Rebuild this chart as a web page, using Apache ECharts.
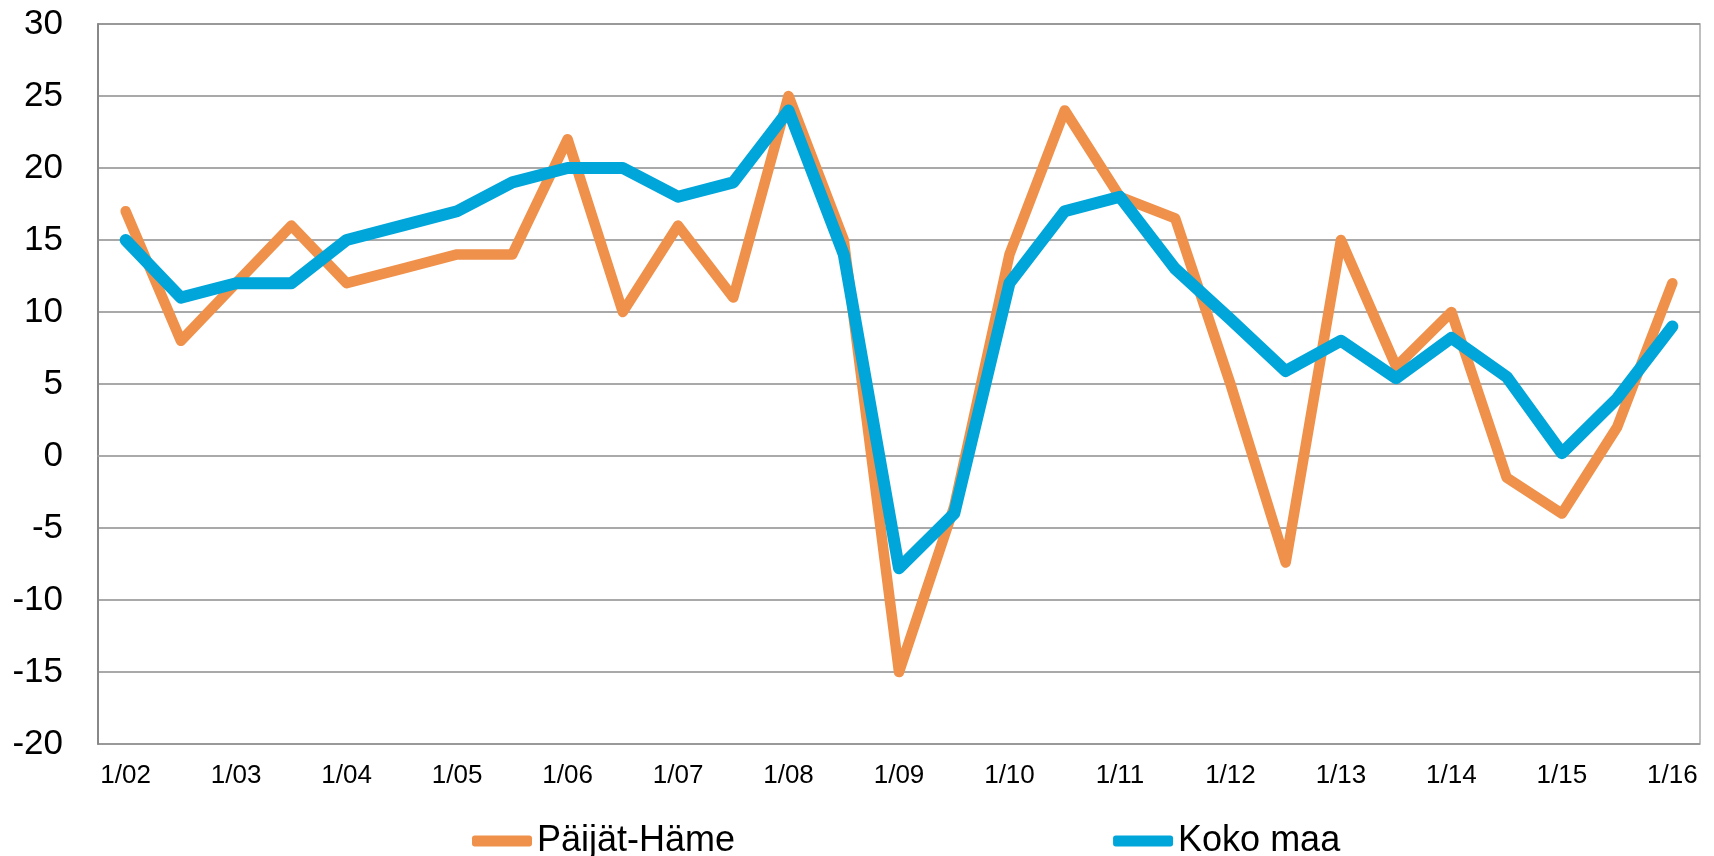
<!DOCTYPE html>
<html>
<head>
<meta charset="utf-8">
<script src="https://cdn.jsdelivr.net/npm/echarts@6/dist/echarts.min.js"></script>
<style>
  html, body { margin: 0; padding: 0; background: #fff; }
  #chart { width: 1714px; height: 856px; }
</style>
</head>
<body>
<div id="chart"></div>
<script>
// puolivuosittaiset havainnot 1/02 ... 1/16
const categories = [
  '1/02', '7/02', '1/03', '7/03', '1/04', '7/04', '1/05', '7/05',
  '1/06', '7/06', '1/07', '7/07', '1/08', '7/08', '1/09', '7/09',
  '1/10', '7/10', '1/11', '7/11', '1/12', '7/12', '1/13', '7/13',
  '1/14', '7/14', '1/15', '7/15', '1/16'
]
const paijatHame = [
  17, 8, 12, 16, 12, 13, 14, 14,
  22, 10, 16, 11, 25, 15, -15, -3.5,
  14, 24, 18, 16.5, 5, -7.4, 15, 6.2,
  10, -1.5, -4, 2, 12
]
const kokoMaa = [
  15, 11, 12, 12, 15, 16, 17, 19,
  20, 20, 18, 19, 24, 14, -7.8, -4,
  12, 17, 18, 13, 9.5, 5.9, 8, 5.4,
  8.2, 5.5, 0.2, 4, 9
]
const yTicks = { min: -20, max: 30, step: 5 }

const font = "'Liberation Sans', Arial, sans-serif"
const chart = echarts.init(document.getElementById('chart'))

chart.setOption({
  animation: false,
  backgroundColor: '#ffffff',
  grid: {
    left: 98,
    right: 14,
    top: 24,
    bottom: 112,
    show: true,
    borderColor: '#aaaaaa',
    borderWidth: 1.5
  },
  legend: {
    data: ['Päijät-Häme', 'Koko maa'],
    left: 467,
    top: 818,
    icon: 'roundRect',
    itemWidth: 60,
    itemHeight: 11,
    itemGap: 378,
    textStyle: { fontFamily: font, fontSize: 36, color: '#000' }
  },
  xAxis: {
    type: 'category',
    data: categories,
    boundaryGap: true,
    axisTick: { show: false },
    axisLine: { show: true, lineStyle: { color: '#aaaaaa', width: 1.5 } },
    axisLabel: {
      interval: 1,
      margin: 19,
      fontFamily: font,
      fontSize: 26,
      color: '#000'
    },
    splitLine: { show: false }
  },
  yAxis: {
    type: 'value',
    min: yTicks.min,
    max: yTicks.max,
    interval: yTicks.step,
    axisLine: { show: true, lineStyle: { color: '#888888', width: 2 } },
    axisTick: { show: false },
    axisLabel: {
      margin: 35,
      fontFamily: font,
      fontSize: 35,
      color: '#000'
    },
    splitLine: { lineStyle: { color: '#8c8c8c', width: 1.5 } }
  },
  series: [
    {
      name: 'Päijät-Häme',
      type: 'line',
      data: paijatHame,
      symbol: 'none',
      color: '#F0914B',
      lineStyle: { width: 10.5, color: '#F0914B', cap: 'round', join: 'round' }
    },
    {
      name: 'Koko maa',
      type: 'line',
      data: kokoMaa,
      symbol: 'none',
      color: '#00A5DA',
      lineStyle: { width: 12, color: '#00A5DA', cap: 'round', join: 'round' }
    }
  ]
})
</script>
</body>
</html>
